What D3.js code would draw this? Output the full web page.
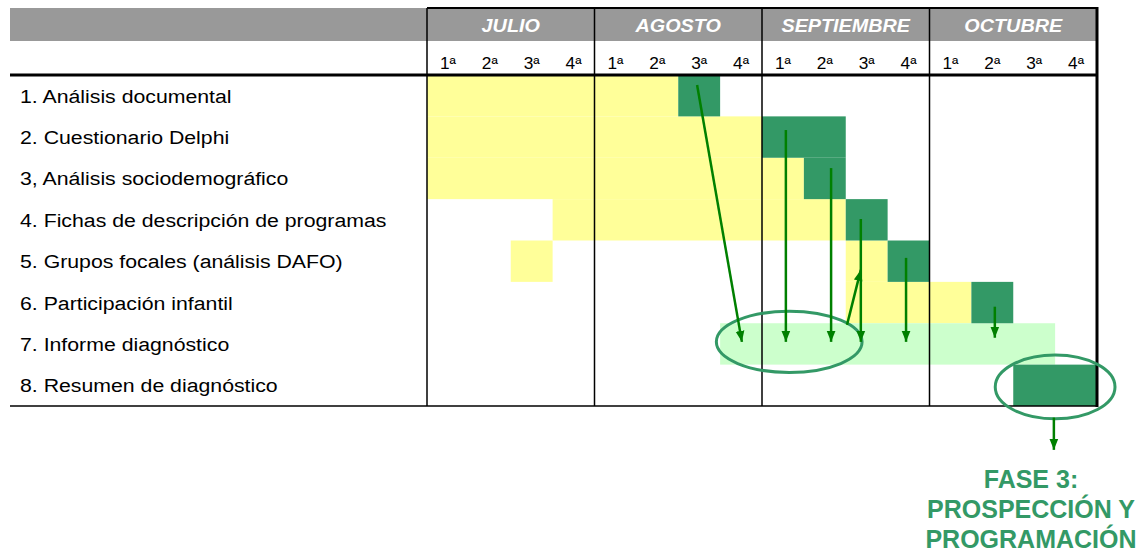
<!DOCTYPE html>
<html>
<head>
<meta charset="utf-8">
<script src="https://cdn.jsdelivr.net/npm/d3@7"></script>
<style>
  body { margin: 0; background: #fff; }
  text { font-family: "Liberation Sans", Arial, sans-serif; }
</style>
</head>
<body>
<svg id="chart" width="1148" height="553"></svg>
<script>
// months / weeks of the schedule
const months = ["JULIO", "AGOSTO", "SEPTIEMBRE", "OCTUBRE"];
const weekLabels = ["1ª", "2ª", "3ª", "4ª"];

const tasks = [
  "1. Análisis documental",
  "2. Cuestionario Delphi",
  "3, Análisis sociodemográfico",
  "4. Fichas de descripción de programas",
  "5. Grupos focales (análisis DAFO)",
  "6. Participación infantil",
  "7. Informe diagnóstico",
  "8. Resumen de diagnóstico"
];

// [task index, first week, last week (exclusive)]
const planned = [[0, 0, 6], [1, 0, 8], [2, 0, 9], [3, 3, 10], [4, 2, 3], [4, 10, 11], [5, 10, 13]];
const active = [[0, 6, 7], [1, 8, 10], [2, 9, 10], [3, 10, 11], [4, 11, 12], [5, 13, 14], [7, 14, 16]];
const reporting = [[6, 7, 15]];

// arrows: [week from, row from, week to, row to]
const arrows = [
  [6.45, 0.24, 7.52, 6.45],
  [8.57, 1.33, 8.57, 6.45],
  [9.65, 2.25, 9.65, 6.45],
  [10.36, 3.48, 10.36, 6.45],
  [10.03, 6.04, 10.36, 4.71],
  [11.44, 4.42, 11.44, 6.45],
  [13.56, 5.6, 13.56, 6.35],
  [14.97, 8.28, 14.97, 9.06]
];
// ellipses: [center week, center row, radius weeks, radius rows]
const rings = [[8.65, 6.45, 1.74, 0.74], [15.0, 7.54, 1.43, 0.77]];

const phaseText = ["FASE 3:", "PROSPECCIÓN Y", "PROGRAMACIÓN"];

const svg = d3.select("#chart");
const x = d3.scaleLinear().domain([0, 16]).range([427, 1097]);
const y = d3.scaleLinear().domain([0, 8]).range([75, 406]);
const headTop = 8, headMid = 41;

const YELLOW = "#ffff99", GREEN = "#339966", LIGHT = "#ccffcc", ARROW = "#008000";

svg.append("defs").append("marker")
  .attr("id", "head")
  .attr("markerUnits", "userSpaceOnUse")
  .attr("viewBox", "0 0 10 10")
  .attr("refX", 10).attr("refY", 5)
  .attr("markerWidth", 11).attr("markerHeight", 11)
  .attr("orient", "auto")
  .append("path").attr("d", "M0,1 L10,5 L0,9 Z").attr("fill", ARROW);

// header band
svg.append("rect").attr("x", 10).attr("y", headTop).attr("width", x(16) - 10).attr("height", headMid - headTop).attr("fill", "#999999");

// text in the source is a bit stretched sideways
svg.selectAll(".month").data(months).enter().append("text")
  .attr("transform", (d, i) => `translate(${x(i * 4 + 2)},${headMid - 9}) scale(1.1,1)`)
  .attr("text-anchor", "middle").attr("fill", "#fff")
  .style("font-size", "18px").style("font-weight", "bold").style("font-style", "italic")
  .text(d => d);

const weeks = d3.range(16);
svg.selectAll(".week").data(weeks).enter().append("text")
  .attr("transform", d => `translate(${x(d + 0.5)},69) scale(1.08,1)`)
  .attr("text-anchor", "middle").style("font-size", "16px").attr("fill", "#000")
  .text(d => weekLabels[d % 4]);

// bars
function bars(data, color) {
  svg.append("g").selectAll("rect").data(data).enter().append("rect")
    .attr("x", d => x(d[1])).attr("width", d => x(d[2]) - x(d[1]))
    .attr("y", d => y(d[0])).attr("height", d => y(d[0] + 1) - y(d[0]))
    .attr("fill", color);
}
bars(planned, YELLOW);
bars(reporting, LIGHT);
bars(active, GREEN);

// task labels
svg.selectAll(".task").data(tasks).enter().append("text")
  .attr("transform", (d, i) => `translate(20,${y(i + 0.5) + 7}) scale(1.12,1)`)
  .style("font-size", "19px").attr("fill", "#000")
  .text(d => d);

// grid lines
const g = svg.append("g").attr("stroke", "#000");
[4, 8, 12].forEach(w => g.append("line").attr("x1", x(w)).attr("x2", x(w)).attr("y1", headTop).attr("y2", y(8)).attr("stroke-width", 1.5));
g.append("line").attr("x1", x(0)).attr("x2", x(0)).attr("y1", headTop).attr("y2", y(8)).attr("stroke-width", 1.5);
g.append("line").attr("x1", x(16)).attr("x2", x(16)).attr("y1", headTop - 1).attr("y2", y(8) + 1).attr("stroke-width", 3);
g.append("line").attr("x1", x(0)).attr("x2", x(16)).attr("y1", headTop).attr("y2", headTop).attr("stroke-width", 2);
g.append("line").attr("x1", 10).attr("x2", x(16)).attr("y1", y(0)).attr("y2", y(0)).attr("stroke-width", 3);
g.append("line").attr("x1", 10).attr("x2", x(16)).attr("y1", y(8)).attr("y2", y(8)).attr("stroke-width", 1.5);

// rings
svg.selectAll(".ring").data(rings).enter().append("ellipse")
  .attr("cx", d => x(d[0])).attr("cy", d => y(d[1]))
  .attr("rx", d => x(d[2]) - x(0)).attr("ry", d => y(d[3]) - y(0))
  .attr("fill", "none").attr("stroke", GREEN).attr("stroke-width", 3);

// arrows
svg.selectAll(".arrow").data(arrows).enter().append("line")
  .attr("x1", d => x(d[0])).attr("y1", d => y(d[1]))
  .attr("x2", d => x(d[2])).attr("y2", d => y(d[3]))
  .attr("stroke", ARROW).attr("stroke-width", 2.5)
  .attr("marker-end", "url(#head)");

// phase label
svg.selectAll(".phase").data(phaseText).enter().append("text")
  .attr("x", 1031).attr("y", (d, i) => 488 + i * 30)
  .attr("text-anchor", "middle").attr("fill", GREEN)
  .style("font-size", "25px").style("font-weight", "bold")
  .text(d => d);
</script>
</body>
</html>
